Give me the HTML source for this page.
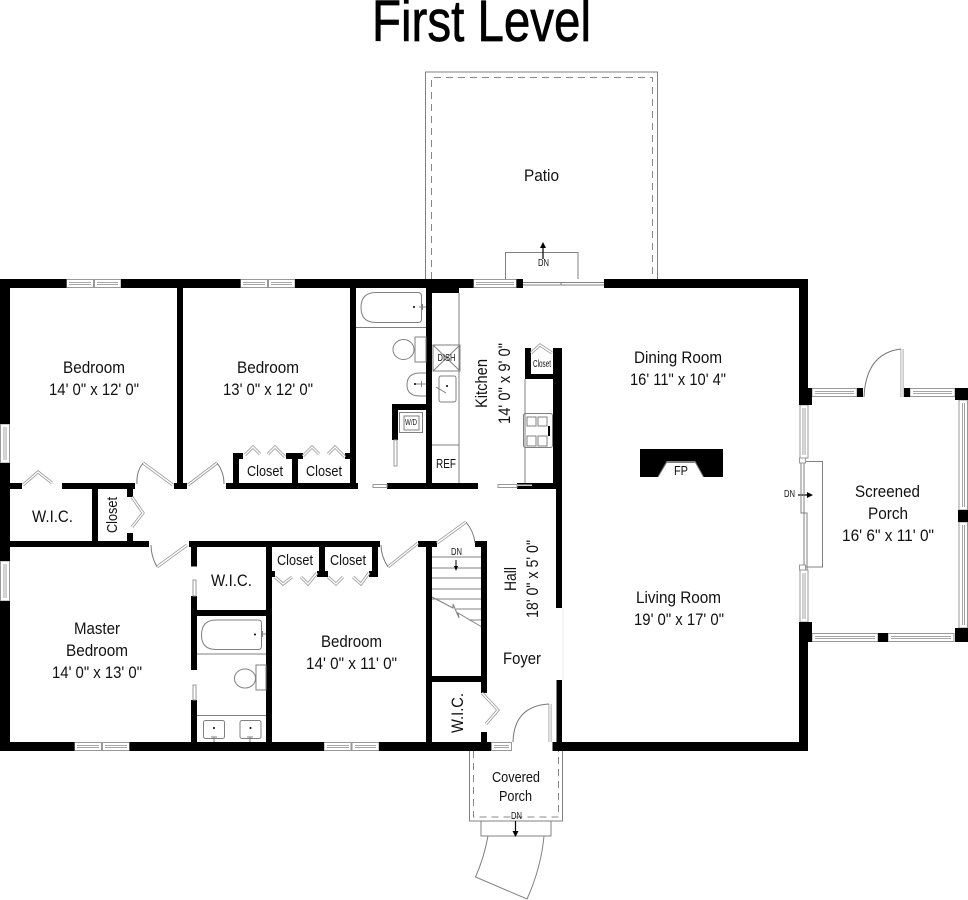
<!DOCTYPE html>
<html><head><meta charset="utf-8"><style>
html,body{margin:0;padding:0;background:#fff;width:968px;height:900px;overflow:hidden}
svg{display:block}
text{font-family:"Liberation Sans",Arial,sans-serif;fill:#111}
.g{fill:none;stroke:#808080;stroke-width:1}
.l{fill:none;stroke:#777;stroke-width:1}
.d{fill:none;stroke:#999;stroke-width:3}
.d2{fill:none;stroke:#fff;stroke-width:1.4}
.w{fill:#fff;stroke:#999;stroke-width:1}
.t{fill:none;stroke:#999;stroke-width:3}
.t2{fill:none;stroke:#fff;stroke-width:1.2}
.dash{fill:none;stroke:#888;stroke-width:1;stroke-dasharray:7 5}
</style></head><body>
<svg width="968" height="900" viewBox="0 0 968 900" xmlns="http://www.w3.org/2000/svg">
<rect width="968" height="900" fill="#fff"/>
<text x="372" y="41" font-size="58" textLength="219" lengthAdjust="spacingAndGlyphs" style="fill:#000;stroke:#000;stroke-width:.7">First Level</text>

<!-- patio -->
<path class="g" d="M425.5,279V72H657.5V279"/>
<path class="dash" d="M431.5,279V77.5H652.5V279"/>
<!-- top steps -->
<path class="g" d="M505.5,279V252.5H578V279"/>
<path d="M543,259V246" stroke="#000" stroke-width="1.2"/><path d="M540,248L543,242L546,248Z" fill="#000"/>

<!-- covered porch -->
<path class="g" d="M469.5,751V821H562.5V751"/>
<path class="dash" d="M473.5,751V817H558.5V751"/>
<path class="g" d="M481,821V836H551V821"/>
<path class="g" d="M488,836Q484,858 475.5,877L527,899Q541,868 544,836"/>
<path d="M515.5,821V833" stroke="#000" stroke-width="1.2"/><path d="M512.5,831L515.5,837L518.500,831Z" fill="#000"/>

<!-- screened porch steps -->
<path class="g" d="M805,461.500H822.500V567H805"/>
<path d="M798,495H809" stroke="#000" stroke-width="1.2"/><path d="M807,492L813,495L807,498Z" fill="#000"/>

<!-- windows: top -->
<g class="w">
<rect x="66.500" y="279.500" width="27" height="8"/><rect x="94.500" y="279.500" width="26.500" height="8"/>
<rect x="240.500" y="279.500" width="27" height="8"/><rect x="268.500" y="279.500" width="26.500" height="8"/>
<rect x="473.500" y="279.500" width="43" height="8"/>
<rect x="0.500" y="424" width="9" height="39"/><rect x="0.500" y="561" width="9" height="40"/>
<rect x="74.500" y="742.500" width="27" height="8"/><rect x="102.500" y="742.500" width="27" height="8"/>
<rect x="324" y="742.500" width="27" height="8"/><rect x="352" y="742.500" width="27" height="8"/>
<rect x="491.500" y="742.500" width="20" height="8"/>
<rect x="812" y="388.500" width="45" height="8"/>
<rect x="910" y="388.500" width="45" height="8"/>
<rect x="812" y="633.500" width="66" height="8"/>
<rect x="888" y="633.500" width="66" height="8"/>
<rect x="800" y="405" width="8" height="53"/>
<rect x="800" y="570" width="8" height="52"/>
<rect x="959" y="400" width="8.500" height="110"/>
<rect x="959" y="522" width="8.500" height="106"/>
</g>
<path class="t" d="M69,283.500H91M97,283.500H118M243,283.500H265M271,283.500H292M476,283.500H514M5,427V460M5,564V598M77,746.500H99M105,746.500H127M327,746.500H349M355,746.500H376M494,746.500H509M815,392.500H854M913,392.500H952M815,637.500H875M891,637.500H951M804,408V455M804,573V619M963.500,403V507M963.500,525V625"/>
<path class="t2" d="M69,283.500H91M97,283.500H118M243,283.500H265M271,283.500H292M476,283.500H514M5,427V460M5,564V598M77,746.500H99M105,746.500H127M327,746.500H349M355,746.500H376M494,746.500H509M815,392.500H854M913,392.500H952M815,637.500H875M891,637.500H951M804,408V455M804,573V619M963.500,403V507M963.500,525V625"/>
<!-- screen porch sliding door -->
<path class="g" d="M801,458V513H804V570M804,458V513H807V570"/>
<rect x="799.500" y="458" width="6" height="5" fill="#fff" stroke="#999"/><rect x="799.500" y="565" width="6" height="5" fill="#fff" stroke="#999"/>
<!-- top slider -->
<path class="g" d="M523,282.500H561V285H604M523,285H561V282.500H604"/>
<path d="M563,608V680" stroke="#eee" stroke-width="1"/>

<!-- black walls -->
<g fill="#000">
<rect x="0" y="279" width="66.500" height="9"/>
<rect x="121" y="279" width="119.500" height="9"/>
<rect x="295" y="279" width="178.500" height="9"/>
<rect x="516.500" y="279" width="6.500" height="9"/>
<rect x="604" y="279" width="204" height="9"/>
<rect x="426" y="288" width="33" height="5"/>
<rect x="0" y="288" width="10" height="136"/>
<rect x="0" y="463" width="10" height="98"/>
<rect x="0" y="601" width="10" height="150"/>
<rect x="0" y="742" width="74.500" height="9"/>
<rect x="129.500" y="742" width="194.500" height="9"/>
<rect x="379" y="742" width="112" height="9"/>
<rect x="552.500" y="742" width="255.500" height="9"/>
<rect x="799" y="288" width="9" height="117"/>
<rect x="799" y="622" width="9" height="129"/>
<rect x="799" y="388" width="13" height="17"/>
<rect x="799" y="622" width="13" height="20"/>
<rect x="857" y="388" width="6" height="9"/>
<rect x="904" y="388" width="6" height="9"/>
<rect x="955" y="388" width="13" height="12"/>
<rect x="958" y="510" width="10" height="12"/>
<rect x="955" y="628" width="13" height="14"/>
<rect x="878" y="633" width="10" height="9"/>
<rect x="177" y="288" width="6" height="201"/>
<rect x="350" y="288" width="6" height="201"/>
<rect x="426" y="288" width="6" height="201"/>
<rect x="10" y="483" width="12" height="6"/>
<rect x="62" y="483" width="73" height="6"/>
<rect x="174" y="483" width="13" height="6"/>
<rect x="226" y="483" width="132" height="6"/>
<rect x="387" y="483" width="91" height="6"/>
<rect x="517" y="483" width="45" height="6"/>
<rect x="233" y="453" width="6" height="30"/><rect x="233" y="453" width="10" height="6"/>
<rect x="292" y="453" width="6" height="30"/><rect x="286" y="453" width="17" height="6"/>
<rect x="345" y="453" width="5" height="6"/>
<rect x="92" y="489" width="6" height="52"/>
<rect x="127" y="489" width="6" height="8"/>
<rect x="127" y="533" width="6" height="8"/>
<rect x="10" y="541" width="139" height="6"/>
<rect x="189" y="541" width="191" height="6"/>
<rect x="418" y="541" width="19" height="6"/>
<rect x="475" y="541" width="12" height="6"/>
<rect x="392" y="404" width="34" height="6"/>
<rect x="392" y="404" width="6" height="36"/>
<rect x="553" y="348" width="9" height="141"/>
<rect x="525" y="348" width="6" height="31"/>
<rect x="525" y="374" width="28" height="5"/>
<rect x="556" y="489" width="6" height="119"/>
<rect x="556.500" y="680" width="5.500" height="62"/>
<rect x="191" y="547" width="6" height="19.500"/>
<rect x="191" y="596" width="6" height="74"/>
<rect x="191" y="700" width="6" height="42"/>
<rect x="197" y="610" width="69" height="6"/>
<rect x="266" y="547" width="6" height="195"/>
<rect x="272" y="571" width="3" height="6"/>
<rect x="319" y="547" width="6" height="30"/><rect x="317" y="571" width="11" height="6"/>
<rect x="372" y="547" width="6" height="30"/><rect x="369" y="571" width="9" height="6"/>
<rect x="426" y="541" width="6" height="201"/>
<rect x="481" y="541" width="6" height="152"/>
<rect x="481" y="732" width="6" height="19"/>
<rect x="432" y="676" width="49" height="6"/>
<path d="M640,449H723V477H703.500L695,462.500H667L658,477H640Z"/>
</g>
<path class="g" d="M658,477L667,461.500H695L703.500,477"/>

<!-- sliders -->
<g fill="#fff" stroke="#999">
<rect x="193" y="580" width="3" height="16"/><rect x="193" y="685" width="3" height="15"/>
<rect x="394" y="440" width="3" height="26"/>
<rect x="373" y="484.500" width="14" height="3"/><rect x="498" y="484.500" width="19" height="3"/>
</g>
<rect x="517" y="484.500" width="15" height="1.500" fill="#ccc"/>

<!-- swing doors -->
<g>
<path class="d" d="M173,485L143,463M188,485L217,463M187,545L157,567M418,543L388,567M437,543L466,522M550,704V742M902,349V397"/>
<path class="d2" d="M173,485L143,463M188,485L217,463M187,545L157,567M418,543L388,567M437,543L466,522M550,704V742M902,349V397"/>
<path class="l" d="M143,463Q136,472 137,484M217,463Q224,472 224,484M157,567Q151,556 151,545M388,567Q381,556 381,545M466,522Q474,532 475,543M549,704Q514,706 513,742M901,349Q866,353 864,397"/>
<path class="d" d="M23,485L38,472L52,483M132,497L143,513L132,527M245,455L253,447L260,454M268,454L275,447L285,457M303,456L312,447L319,454M328,454L335,447L345,457M275,577L283,584L292,577M301,577L308,584L317,573M328,577L336,584L343,577M353,577L361,584L369,573M482,693L498,710L486,724M531,353L540,345L552,353"/>
<path class="d2" d="M23,485L38,472L52,483M132,497L143,513L132,527M245,455L253,447L260,454M268,454L275,447L285,457M303,456L312,447L319,454M328,454L335,447L345,457M275,577L283,584L292,577M301,577L308,584L317,573M328,577L336,584L343,577M353,577L361,584L369,573M482,693L498,710L486,724M531,353L540,345L552,353"/>
</g>

<!-- fixtures -->
<g class="g">
<path d="M356,327.500H426"/>
<path d="M376,292.500H418Q421.500,292.500 421.500,296V319Q421.500,322.500 418,322.500H376Q361,322.500 361,307.500Q361,292.500 376,292.500Z"/>
<rect x="415" y="337" width="11" height="25"/>
<ellipse cx="403.500" cy="349.500" rx="10.500" ry="10"/>
<path d="M426,373H420Q407,373 407,385Q407,396 420,396H426"/>
<rect x="399.500" y="412.500" width="23" height="20"/><rect x="404" y="416" width="15" height="14"/>
<rect x="433" y="345" width="27" height="26"/><path d="M433,345L460,371M460,345L433,371"/>
<path d="M459,293V483M432,445H459M525,379V483"/>
<rect x="439" y="376" width="17" height="26" rx="2"/><path d="M436,387L446,393"/>
<rect x="523.500" y="413.500" width="29" height="34" rx="2"/>
<rect x="527" y="417" width="9" height="9"/><rect x="538" y="417" width="9" height="9"/><rect x="527" y="436" width="9" height="10"/><rect x="538" y="436" width="9" height="10"/>
<path d="M419,307H426M422.500,304V310M415,384H426M421.500,381V387"/>
<path d="M197,654H266M197,715.500H266"/>
<path d="M216,620H258Q261.500,620 261.500,623V646Q261.500,649.500 258,649.500H216Q201.500,649.500 201.500,635Q201.500,620 216,620Z"/>
<rect x="256" y="665" width="10" height="25"/>
<ellipse cx="245" cy="678.500" rx="10.500" ry="9.500"/>
<rect x="203.500" y="720.500" width="21" height="18" rx="2"/><rect x="240" y="720.500" width="21" height="18" rx="2"/>
<path d="M262,634H266M262.500,631V637M214,737V742M211,737H217M250,737V742M247,737H253"/>
<path d="M432,557H481M432,568H481M432,578H481M432,589H481M432,599H448M432,599H481M456,609H481M469,620H481M432,597L453,608L453,604L459,618L458,613L481,626.500"/>
</g>
<g fill="#000">
<circle cx="414" cy="307" r="1"/><circle cx="415" cy="384" r="1"/><rect x="548" y="426" width="2" height="10"/>
<circle cx="255" cy="634.500" r="1"/><circle cx="214" cy="728" r="1"/><circle cx="250.500" cy="728" r="1"/>
<circle cx="447" cy="386" r="1"/>
</g>
<path d="M456,560V568" stroke="#000" stroke-width="1"/><path d="M454,566L456,571L458,566Z" fill="#000"/>

<!-- labels -->
<g font-size="17">
<text x="524" y="181" textLength="35" lengthAdjust="spacingAndGlyphs">Patio</text>
<text x="63" y="373" textLength="62" lengthAdjust="spacingAndGlyphs">Bedroom</text>
<text x="49" y="395" textLength="90" lengthAdjust="spacingAndGlyphs">14' 0" x 12' 0"</text>
<text x="237" y="373" textLength="62" lengthAdjust="spacingAndGlyphs">Bedroom</text>
<text x="223" y="395" textLength="90" lengthAdjust="spacingAndGlyphs">13' 0" x 12' 0"</text>
<text x="32" y="522" textLength="41" lengthAdjust="spacingAndGlyphs">W.I.C.</text>
<text x="74" y="634" textLength="46" lengthAdjust="spacingAndGlyphs">Master</text>
<text x="66" y="656" textLength="62" lengthAdjust="spacingAndGlyphs">Bedroom</text>
<text x="52" y="678" textLength="90" lengthAdjust="spacingAndGlyphs">14' 0" x 13' 0"</text>
<text x="211" y="586" textLength="41" lengthAdjust="spacingAndGlyphs">W.I.C.</text>
<text x="321" y="647" textLength="61" lengthAdjust="spacingAndGlyphs">Bedroom</text>
<text x="306" y="669" textLength="91" lengthAdjust="spacingAndGlyphs">14' 0" x 11' 0"</text>
<text x="503" y="664" textLength="38" lengthAdjust="spacingAndGlyphs">Foyer</text>
<text x="634" y="363" textLength="88" lengthAdjust="spacingAndGlyphs">Dining Room</text>
<text x="630" y="385" textLength="96" lengthAdjust="spacingAndGlyphs">16' 11" x 10' 4"</text>
<text x="636" y="603" textLength="85" lengthAdjust="spacingAndGlyphs">Living Room</text>
<text x="634" y="625" textLength="90" lengthAdjust="spacingAndGlyphs">19' 0" x 17' 0"</text>
<text x="855" y="497" textLength="65" lengthAdjust="spacingAndGlyphs">Screened</text>
<text x="868" y="519" textLength="40" lengthAdjust="spacingAndGlyphs">Porch</text>
<text x="842" y="541" textLength="92" lengthAdjust="spacingAndGlyphs">16' 6" x 11' 0"</text>
<text transform="translate(516,591) rotate(-90)" textLength="24" lengthAdjust="spacingAndGlyphs">Hall</text>
<text transform="translate(538,618) rotate(-90)" textLength="78" lengthAdjust="spacingAndGlyphs">18' 0" x 5' 0"</text>
<text transform="translate(463,733) rotate(-90)" textLength="40" lengthAdjust="spacingAndGlyphs">W.I.C.</text>
<text transform="translate(487,408) rotate(-90)" textLength="49" lengthAdjust="spacingAndGlyphs">Kitchen</text>
<text transform="translate(510,424) rotate(-90)" textLength="81" lengthAdjust="spacingAndGlyphs">14' 0" x 9' 0"</text>
</g>
<g font-size="15">
<text x="247" y="476" textLength="36" lengthAdjust="spacingAndGlyphs">Closet</text>
<text x="306" y="476" textLength="36" lengthAdjust="spacingAndGlyphs">Closet</text>
<text x="277" y="565" textLength="36" lengthAdjust="spacingAndGlyphs">Closet</text>
<text x="330" y="565" textLength="36" lengthAdjust="spacingAndGlyphs">Closet</text>
<text x="492" y="782" textLength="48" lengthAdjust="spacingAndGlyphs">Covered</text>
<text x="499" y="801" textLength="33" lengthAdjust="spacingAndGlyphs">Porch</text>
<text transform="translate(117,533) rotate(-90)" textLength="36" lengthAdjust="spacingAndGlyphs">Closet</text>
<text x="436" y="468" font-size="13" textLength="20" lengthAdjust="spacingAndGlyphs">REF</text>
</g>
<g font-size="10">
<text x="437.500" y="361" textLength="18" lengthAdjust="spacingAndGlyphs">DISH</text>
<text x="405" y="425" font-size="8" textLength="12" lengthAdjust="spacingAndGlyphs">W/D</text>
<text x="533" y="367" textLength="18" lengthAdjust="spacingAndGlyphs">Closet</text>
<text x="538" y="266" textLength="11" lengthAdjust="spacingAndGlyphs">DN</text>
<text x="451" y="555" textLength="11" lengthAdjust="spacingAndGlyphs">DN</text>
<text x="784" y="497" textLength="11" lengthAdjust="spacingAndGlyphs">DN</text>
<text x="511" y="819" textLength="11" lengthAdjust="spacingAndGlyphs">DN</text>
<text x="674" y="475" font-size="13" textLength="14" lengthAdjust="spacingAndGlyphs">FP</text>
</g>
</svg>
</body></html>
